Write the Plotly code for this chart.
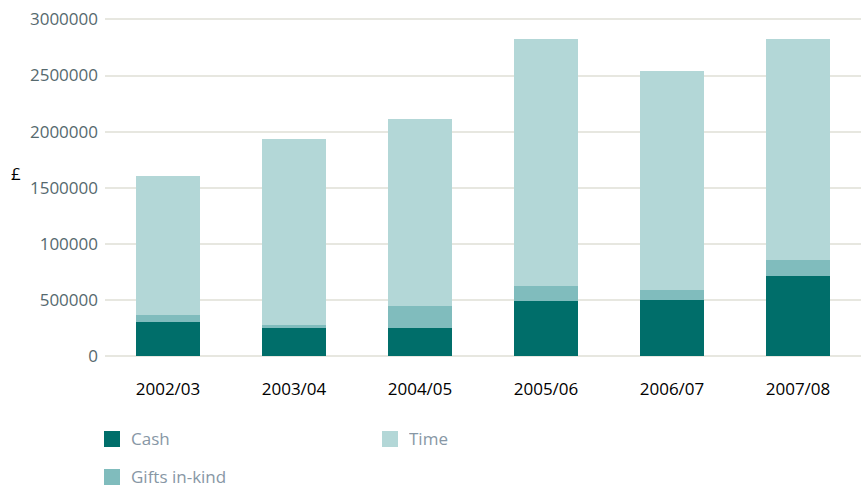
import plotly.graph_objects as go

# Annual contributions by type (GBP)
years = ["2002/03", "2003/04", "2004/05", "2005/06", "2006/07", "2007/08"]
cash = [300000, 245000, 245000, 486000, 495000, 709000]
gifts_in_kind = [60000, 27000, 196000, 134000, 89000, 142000]
time_given = [1240000, 1658000, 1667000, 2202000, 1952000, 1971000]

y_tick_values = [0, 500000, 1000000, 1500000, 2000000, 2500000, 3000000]
y_tick_labels = ["0", "500000", "100000", "1500000", "2000000", "2500000", "3000000"]

series_names = ["Cash", "Gifts in-kind", "Time"]
series_colors = {"Cash": "#006E6A", "Gifts in-kind": "#80BCBD", "Time": "#B3D7D7"}
series_values = {"Cash": cash, "Gifts in-kind": gifts_in_kind, "Time": time_given}

W, H = 861, 486
ML, MR, MT, MB = 105, 0, 15, 128
FONT = "Open Sans"

fig = go.Figure()
for name in series_names:
    fig.add_trace(go.Bar(
        x=years, y=series_values[name], name=name,
        marker=dict(color=series_colors[name], line=dict(width=0)),
        width=0.508, showlegend=False,
    ))


def px_x(px):
    return (px - ML) / (W - ML - MR)


def px_y(py):
    return (H - MB - py) / (H - MT - MB)


# Legend: two columns, Cash / Time on the first row, Gifts in-kind below
legend_items = [("Cash", 104, 439), ("Time", 382, 439), ("Gifts in-kind", 104, 477)]
shapes = []
annotations = []
for name, lx, ly in legend_items:
    shapes.append(dict(
        type="rect", xref="paper", yref="paper",
        x0=px_x(lx), x1=px_x(lx + 16), y0=px_y(ly - 8), y1=px_y(ly + 8),
        fillcolor=series_colors[name], line=dict(width=0), layer="above",
    ))
    annotations.append(dict(
        text=name, xref="paper", yref="paper", x=px_x(lx + 25), y=px_y(ly - 1),
        xanchor="left", yanchor="middle", showarrow=False, height=18,
        font=dict(family=FONT, size=17, color="#8797A5"),
    ))

# Currency unit beside the value axis
annotations.append(dict(
    text="£", xref="paper", yref="paper", x=px_x(16), y=px_y(173),
    xanchor="center", yanchor="middle", showarrow=False,
    font=dict(family=FONT, size=17, color="#000000"),
))

fig.update_layout(
    barmode="stack",
    width=W, height=H,
    margin=dict(l=ML, r=MR, t=MT, b=MB, pad=0),
    paper_bgcolor="white", plot_bgcolor="white",
    font=dict(family=FONT, size=17),
    shapes=shapes,
    annotations=annotations,
    xaxis=dict(
        showgrid=False, showline=False, ticks="",
        tickfont=dict(family=FONT, size=17, color="#000000"),
        ticklabelstandoff=19,
    ),
    yaxis=dict(
        range=[-20000, 3040000],
        tickvals=y_tick_values, ticktext=y_tick_labels,
        showgrid=True, gridcolor="#E7E7E0", gridwidth=2,
        zeroline=True, zerolinecolor="#E7E7E0", zerolinewidth=2,
        showline=False, ticks="",
        tickfont=dict(family=FONT, size=17, color="#56696E"),
        ticklabelstandoff=6,
    ),
)

fig.write_html("out.html")
